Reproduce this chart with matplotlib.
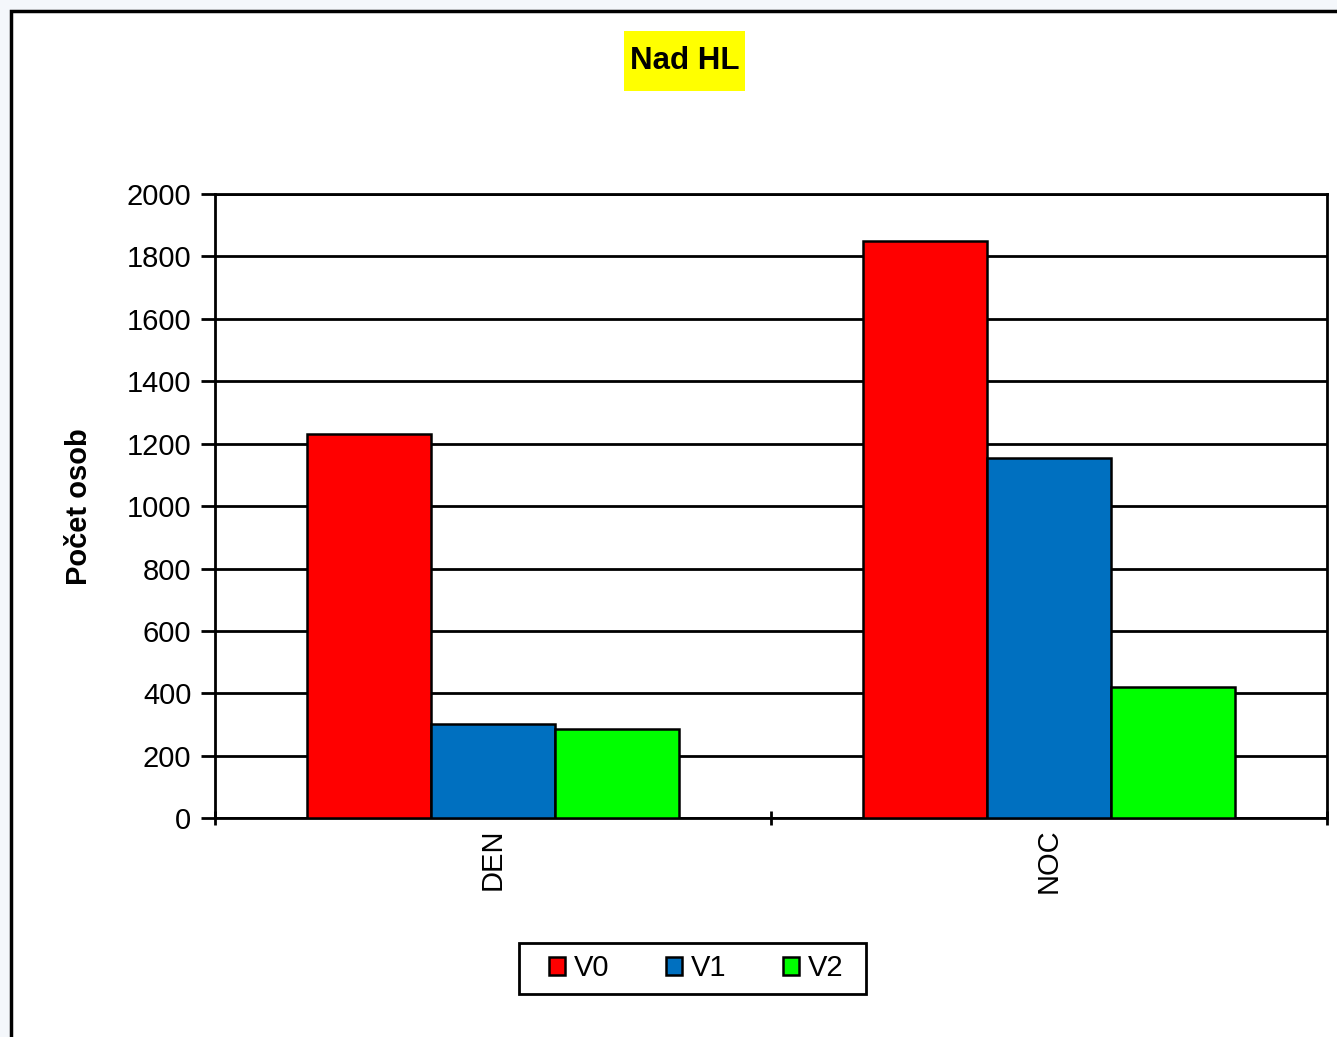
import matplotlib
matplotlib.use("Agg")
import matplotlib.pyplot as plt
from matplotlib.patches import Rectangle
import numpy as np

plt.rcParams['font.family'] = ['Liberation Sans', 'DejaVu Sans']

categories = ["DEN", "NOC"]
series = ["V0", "V1", "V2"]
v0 = [1230, 1848]
v1 = [302, 1155]
v2 = [285, 420]
colors = ["#ff0000", "#0070c0", "#00ff00"]
yticks = [0, 200, 400, 600, 800, 1000, 1200, 1400, 1600, 1800, 2000]

W, H = 1337, 1037
fig = plt.figure(figsize=(W / 100, H / 100), dpi=100, facecolor="#f4f7fb")

# white chart area with black frame (extends past right and bottom edges)
fig.patches.append(Rectangle((10.5 / W, -0.1), 1.2, (H - 10.5) / H + 0.1,
                             transform=fig.transFigure, facecolor="white",
                             edgecolor="black", linewidth=2.5, zorder=-10))
# yellow title box
fig.patches.append(Rectangle((624 / W, 1 - 91 / H), 121 / W, 60 / H,
                             transform=fig.transFigure, facecolor="#ffff00",
                             edgecolor="none", zorder=-5))
# legend frame
fig.patches.append(Rectangle((519 / W, 1 - 994 / H), 347 / W, 51 / H,
                             transform=fig.transFigure, facecolor="white",
                             edgecolor="black", linewidth=2, zorder=-4))

ax = fig.add_axes([215 / W, 1 - 818.3 / H, (1327 - 215) / W, (818.3 - 194) / H])
ax.set_facecolor("white")

x = np.arange(len(categories))
bw = 124 / 556
for i, (vals, c, name) in enumerate(zip([v0, v1, v2], colors, series)):
    ax.bar(x + (i - 1) * bw, vals, width=bw, color=c, edgecolor="black",
           linewidth=1.8, label=name, zorder=3)

ax.set_xlim(-0.5, len(categories) - 0.5)
ax.set_ylim(0, 2000)
ax.set_yticks(yticks)
ax.set_yticklabels([str(t) for t in yticks], fontsize=21)
ax.yaxis.grid(True, color="black", linewidth=2, zorder=0)
ax.set_axisbelow(True)

# category labels between boundary ticks
ax.set_xticks(np.arange(-0.5, len(categories)), minor=False)
ax.set_xticklabels([])
ax.set_xticks(x, minor=True)
ax.set_xticklabels(categories, minor=True, rotation=90, fontsize=21)
ax.tick_params(axis="x", which="major", length=10, width=2, direction="inout")
ax.tick_params(axis="x", which="minor", length=0, pad=7)
ax.tick_params(axis="y", length=10, width=2, direction="out", pad=7)

for s in ax.spines.values():
    s.set_linewidth(2)
    s.set_color("black")

ax.set_ylabel("Počet osob", fontsize=21, fontweight="bold")
ax.yaxis.set_label_coords((93 - 215) / 1112, 0.5)

fig.text(685 / W, 1 - 61 / H, "Nad HL", ha="center", va="center",
         fontsize=22.5, fontweight="bold")

leg = ax.legend(loc="center", bbox_to_anchor=(696 / W, 1 - 968.5 / H),
                bbox_transform=fig.transFigure, ncol=3, fontsize=21,
                frameon=False,
                handlelength=0.55, handleheight=0.55, handletextpad=0.3,
                columnspacing=1.95, borderpad=0.3, borderaxespad=0)

fig.savefig("out.png", dpi=100, facecolor=fig.get_facecolor())
